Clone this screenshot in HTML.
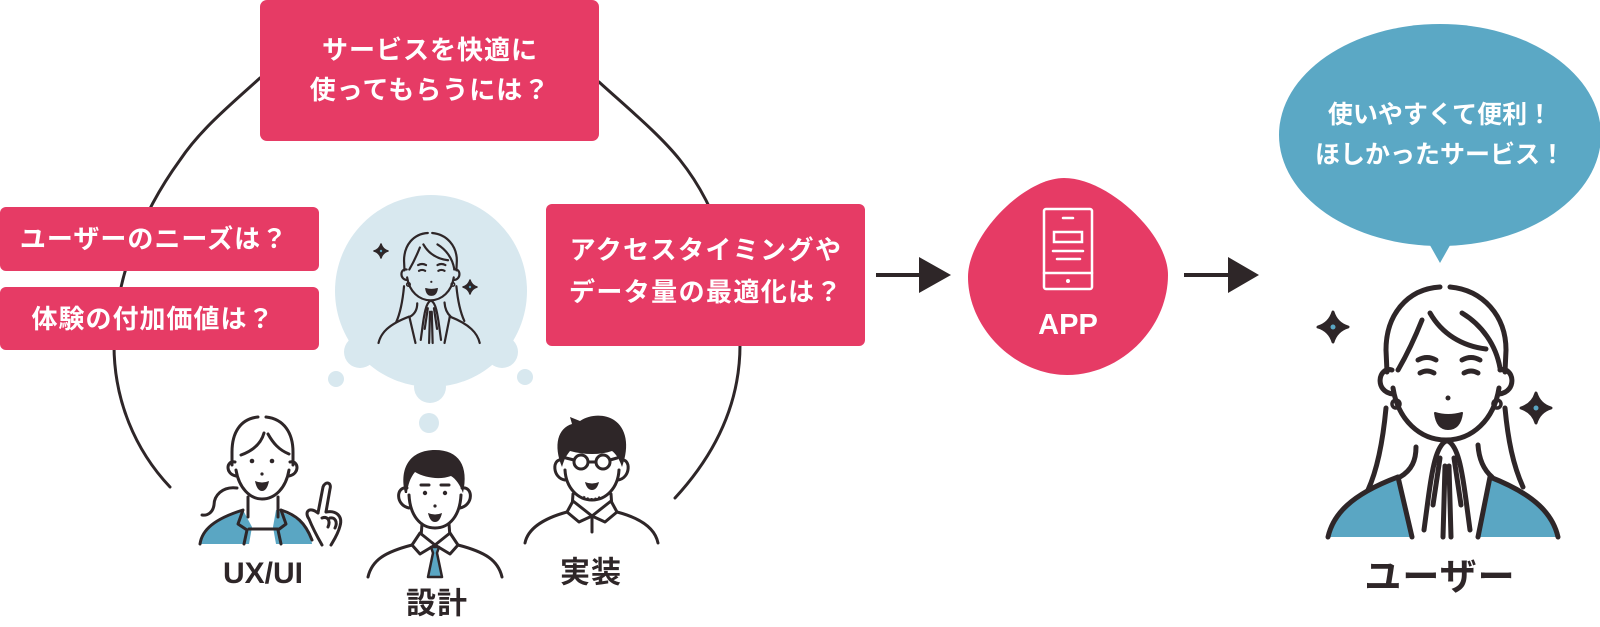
<!DOCTYPE html>
<html><head><meta charset="utf-8">
<style>
html,body{margin:0;padding:0;background:#fff;}
body{width:1600px;height:627px;overflow:hidden;}
svg{display:block;}
.t{font-family:"Liberation Sans","Noto Sans CJK JP",sans-serif;font-weight:700;}
</style></head>
<body>
<svg width="1600" height="627" viewBox="0 0 1600 627" xmlns="http://www.w3.org/2000/svg">
<defs>
<g id="wl" fill="none" stroke="#2e2628" stroke-width="5" stroke-linecap="round" stroke-linejoin="round">
  <path d="M1440,287 C1407,289 1386,315 1386,350 L1387,372"/>
  <path d="M1450,287 C1483,290 1506,316 1506,350 L1505,372"/>
  <path d="M1392,370 C1378,366 1374,392 1393,394"/>
  <path d="M1500,370 C1514,366 1518,392 1499,394"/>
  <path d="M1393,388 C1398,420 1420,440 1446,440 C1472,440 1494,420 1499,388"/>
  <path d="M1430,313 C1442,334 1462,346 1486,349"/>
  <path d="M1422,320 C1414,340 1405,358 1398,370"/>
  <path d="M1462,313 C1482,325 1496,345 1500,368"/>
  <path d="M1418,360 Q1427,355 1436,360 M1462,360 Q1471,355 1480,360"/>
  <path d="M1420,373 Q1427,369 1434,373 M1464,373 Q1471,369 1478,373"/>
  <circle cx="1396" cy="404" r="4" stroke-width="3.5"/>
  <circle cx="1497" cy="404" r="4" stroke-width="3.5"/>
  <path d="M1386,408 C1383,440 1378,468 1368,490"/>
  <path d="M1505,408 C1508,440 1513,465 1523,487"/>
  <path d="M1328,537 C1333,515 1350,495 1398,477"/>
  <path d="M1558,537 C1553,515 1536,495 1490,477"/>
  <path d="M1398,477 L1412,537 M1490,477 L1478,537"/>
  <path d="M1416,447 C1416,460 1412,470 1400,477"/>
  <path d="M1478,445 C1479,460 1484,470 1492,477"/>
  <path d="M1446,441 C1436,446 1432,470 1428,500 L1424,530"/>
  <path d="M1448,441 C1458,446 1462,470 1466,500 L1470,530"/>
  <path d="M1440,458 L1433,505 M1454,458 L1461,505"/>
  <path d="M1445,466 L1443,537 M1449,466 L1451,537"/>
  <circle cx="1448" cy="398" r="2.5" fill="#2e2628" stroke="none"/>
  <path d="M1435,413 Q1448,417 1462,413 Q1460,429 1448,429 Q1437,429 1435,413 Z" fill="#2e2628" stroke-width="2"/>
</g>
</defs>

<!-- big loop -->
<path d="M260,78 C230,105 200,130 180,160 C140,215 115,280 114,345 C114,400 135,450 170,487" fill="none" stroke="#2e2628" stroke-width="3" stroke-linecap="round"/>
<path d="M599,82 C630,110 660,135 680,160 C720,210 740,280 740,345 C740,410 710,460 675,498" fill="none" stroke="#2e2628" stroke-width="3" stroke-linecap="round"/>

<!-- boxes -->
<rect x="260" y="0" width="339" height="141" rx="7" fill="#e63b65"/>
<text class="t" fill="#fff" font-size="26" letter-spacing="1" text-anchor="middle" dominant-baseline="central"><tspan x="430" y="50">サービスを快適に</tspan><tspan x="430" y="90">使ってもらうには？</tspan></text>

<rect x="0" y="207" width="319" height="64" rx="6" fill="#e63b65"/>
<text class="t" fill="#fff" font-size="26" letter-spacing="1" text-anchor="middle" dominant-baseline="central" x="154" y="239">ユーザーのニーズは？</text>
<rect x="0" y="287" width="319" height="63" rx="6" fill="#e63b65"/>
<text class="t" fill="#fff" font-size="26" letter-spacing="1" text-anchor="middle" dominant-baseline="central" x="153" y="319">体験の付加価値は？</text>

<rect x="546" y="204" width="319" height="142" rx="6" fill="#e63b65"/>
<text class="t" fill="#fff" font-size="26" letter-spacing="1.4" text-anchor="middle" dominant-baseline="central"><tspan x="706" y="250">アクセスタイミングや</tspan><tspan x="706" y="292">データ量の最適化は？</tspan></text>

<!-- thought bubble -->
<g fill="#d8e8ef">
  <circle cx="431" cy="291" r="96"/>
  <circle cx="360" cy="352" r="16"/>
  <circle cx="502" cy="352" r="16"/>
  <circle cx="430" cy="387" r="16"/>
  <circle cx="336" cy="379" r="8"/>
  <circle cx="525" cy="377" r="8"/>
  <circle cx="429" cy="423" r="10"/>
</g>
<use href="#wl" transform="translate(-205.8,106.7) scale(0.44)"/>
<g fill="#2e2628" stroke="#2e2628" stroke-width="1.5" stroke-linejoin="round">
  <path d="M381,244 Q382.6,249.4 388,251 Q382.6,252.6 381,258 Q379.4,252.6 374,251 Q379.4,249.4 381,244Z"/>
  <path d="M470,280 Q471.6,285.4 477,287 Q471.6,288.6 470,294 Q468.4,288.6 463,287 Q468.4,285.4 470,280Z"/>
</g>
<circle cx="381" cy="251" r="1.2" fill="#5aa6c3"/>
<circle cx="470" cy="287" r="1.2" fill="#5aa6c3"/>

<!-- UX/UI woman -->
<g fill="#5aa6c3">
  <path d="M200,544 C202,530 214,519 243,510 L252,527 L249,544 Z"/>
  <path d="M276,510 C292,515 303,522 310,532 L312,544 L276,544 L273,527 Z"/>
</g>
<g fill="none" stroke="#2e2628" stroke-width="3" stroke-linecap="round" stroke-linejoin="round">
  <path d="M258,417 C240,419 232,433 232,452 L232,465"/>
  <path d="M266,417 C284,419 293,433 293,452 L293,465"/>
  <path d="M235,462 C226,460 225,474 236,476"/>
  <path d="M290,462 C299,460 300,474 289,476"/>
  <path d="M236,470 C239,488 250,499 262,499 C275,499 286,488 289,470"/>
  <path d="M241,455 C252,451 261,444 264,433"/>
  <path d="M268,434 C273,443 279,450 289,454"/>
  <path d="M248,497 L248,517 M278,497 L278,517"/>
  <path d="M237,488 C222,486 214,496 214,505 C213,512 208,516 202,515"/>
  <path d="M200,544 C202,530 214,519 243,510 L238,524 L247,530 L244,544"/>
  <path d="M281,510 C296,515 305,522 312,540 M281,510 L286,524 L278,530 L281,544"/>
  <path d="M249,529 L278,529"/>
  <path d="M318,513 L323,487 C325,481 332,482 330,489 L326,512"/>
  <path d="M318,513 C309,506 304,512 309,519 C313,529 318,538 322,545"/>
  <path d="M326,512 C336,510 343,516 340,526 C338,534 334,540 331,545"/>
  <path d="M322,518 C327,516 331,520 328,527 M330,518 C335,517 338,522 335,528"/>
</g>
<circle cx="252" cy="461" r="2.3" fill="#2e2628"/>
<circle cx="272" cy="461" r="2.3" fill="#2e2628"/>
<circle cx="262" cy="474" r="1.6" fill="#2e2628"/>
<path d="M255,481 Q262,484 269,481 Q267,491 262,491 Q257,491 255,481Z" fill="#2e2628"/>

<!-- 設計 man -->
<path d="M405,493 C399,468 410,450 435,450 C459,450 469,466 463,493 C460,485 456,479 451,476 C440,480 425,478 415,472 C410,478 408,485 407,493 Z" fill="#2e2628"/>
<g fill="none" stroke="#2e2628" stroke-width="3" stroke-linecap="round" stroke-linejoin="round">
  <path d="M407,488 C396,486 395,505 409,508"/>
  <path d="M462,488 C473,486 474,505 460,508"/>
  <path d="M409,495 C410,515 420,528 435,528 C450,528 460,515 461,495"/>
  <path d="M421,485 L429,485 M441,485 L449,485"/>
  <path d="M422,524 L421,537 M449,524 L450,537"/>
  <path d="M368,577 C372,560 385,552 412,545 M458,545 C485,552 498,560 502,577"/>
</g>
<circle cx="425" cy="493" r="2.2" fill="#2e2628"/>
<circle cx="445" cy="493" r="2.2" fill="#2e2628"/>
<circle cx="435" cy="506" r="1.6" fill="#2e2628"/>
<path d="M428,513 Q435,516 442,513 Q440,522 435,522 Q430,522 428,513Z" fill="#2e2628"/>
<path d="M412,545 L420,533 L435,545 L450,533 L458,545 L450,554 L435,545 L420,554 Z" fill="#fff" stroke="#2e2628" stroke-width="3" stroke-linejoin="round"/>
<path d="M431,547 L439,547 L437,553 L442,577 L428,577 L433,553 Z" fill="#5aa6c3" stroke="#2e2628" stroke-width="2.5" stroke-linejoin="round"/>

<!-- 実装 man -->
<path d="M562,467 C553,445 558,428 572,424 L570,417 L580,421 C590,414 605,414 614,420 C626,428 630,445 622,467 C619,458 615,453 612,451 C600,455 585,455 570,451 C566,456 564,460 562,467 Z" fill="#2e2628"/>
<g fill="none" stroke="#2e2628" stroke-width="3" stroke-linecap="round" stroke-linejoin="round">
  <path d="M562,460 C552,458 552,478 565,480"/>
  <path d="M621,460 C631,458 631,478 618,480"/>
  <path d="M565,470 C566,488 578,500 592,500 C606,500 618,488 619,470"/>
  <circle cx="581" cy="462" r="7"/>
  <circle cx="603" cy="462" r="7"/>
  <path d="M588,462 L596,462 M574,460 L566,458 M610,460 L617,458"/>
  <path d="M573,494 L572,508 M611,494 L612,508"/>
  <path d="M525,543 C528,528 545,518 567,512 M617,512 C640,518 655,528 658,543"/>
  <path d="M592,516 L592,532"/>
</g>
<path d="M585,482 Q592,485 599,482 Q597,490 592,490 Q587,490 585,482Z" fill="#2e2628"/>
<path d="M583,497 Q592,502 601,497" fill="none" stroke="#2e2628" stroke-width="3" stroke-dasharray="2 2"/>
<path d="M567,512 L573,501 L592,516 L611,501 L617,512 L605,522 L592,516 L579,522 Z" fill="#fff" stroke="#2e2628" stroke-width="3" stroke-linejoin="round"/>

<!-- labels -->
<text class="t" fill="#2e2628" font-size="30" text-anchor="middle" x="263" y="583">UX/UI</text>
<text class="t" fill="#2e2628" font-size="30" letter-spacing="1" text-anchor="middle" dominant-baseline="central" x="437" y="604">設計</text>
<text class="t" fill="#2e2628" font-size="30" letter-spacing="1" text-anchor="middle" dominant-baseline="central" x="591" y="573">実装</text>

<!-- arrows -->
<line x1="876" y1="275" x2="922" y2="275" stroke="#2e2628" stroke-width="4"/>
<path d="M919,257 L951,275 L919,293 Z" fill="#2e2628"/>
<line x1="1184" y1="275" x2="1231" y2="275" stroke="#2e2628" stroke-width="4"/>
<path d="M1228,257 L1259,275 L1228,293 Z" fill="#2e2628"/>

<!-- APP blob -->
<path d="M1064,178 C1108,178 1168,234 1168,275 C1168,328 1121,375 1067,375 C1015,375 968,328 968,277 C968,235 1024,178 1064,178 Z" fill="#e63b65"/>
<g fill="none" stroke="#fff" stroke-width="2.5" stroke-linecap="round">
  <rect x="1044" y="209" width="48" height="80" rx="2"/>
  <path d="M1063,218 L1073,218"/>
  <rect x="1054" y="232" width="28" height="10"/>
  <path d="M1053,251 L1083,251 M1057,259 L1080,259 M1044,273 L1092,273"/>
</g>
<circle cx="1068" cy="281" r="2" fill="#fff"/>
<text class="t" fill="#fff" font-size="29" text-anchor="middle" x="1068" y="334">APP</text>

<!-- speech bubble -->
<ellipse cx="1440" cy="135" rx="161" ry="111" fill="#5ba8c5"/>
<path d="M1427,240 L1453,240 L1440,263 Z" fill="#5ba8c5"/>
<text class="t" fill="#fff" font-size="25" text-anchor="middle" dominant-baseline="central"><tspan x="1440" y="115">使いやすくて便利！</tspan><tspan x="1440" y="155">ほしかったサービス！</tspan></text>

<!-- user woman -->
<g fill="#5aa6c3">
  <path d="M1328,537 C1333,515 1350,495 1398,477 L1412,537 Z"/>
  <path d="M1558,537 C1553,515 1536,495 1490,477 L1478,537 Z"/>
</g>
<use href="#wl"/>
<g fill="#2e2628" stroke="#2e2628" stroke-width="3" stroke-linejoin="round">
  <path d="M1333,312 Q1336.5,323.5 1348,327 Q1336.5,330.5 1333,342 Q1329.5,330.5 1318,327 Q1329.5,323.5 1333,312Z"/>
  <path d="M1536,393 Q1539.5,404.5 1551,408 Q1539.5,411.5 1536,423 Q1532.5,411.5 1521,408 Q1532.5,404.5 1536,393Z"/>
</g>
<circle cx="1333" cy="327" r="2.5" fill="#5aa6c3"/>
<circle cx="1536" cy="408" r="2.5" fill="#5aa6c3"/>
<text class="t" fill="#2e2628" font-size="37" letter-spacing="1" text-anchor="middle" dominant-baseline="central" x="1440" y="577">ユーザー</text>
</svg>
</body></html>
